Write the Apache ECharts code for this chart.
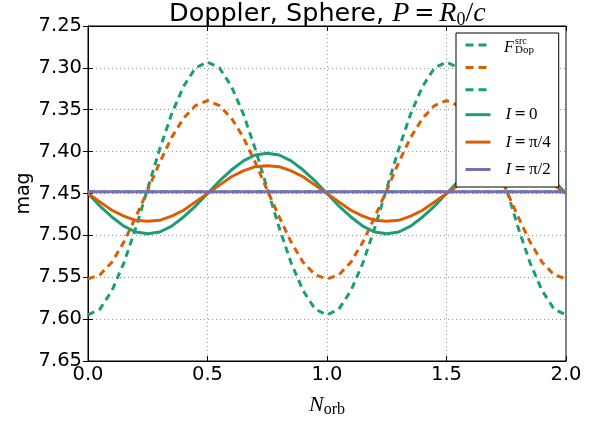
<!DOCTYPE html>
<html><head><meta charset="utf-8">
<script src="https://cdn.jsdelivr.net/npm/echarts@6/dist/echarts.min.js"></script>
<style>html,body{margin:0;padding:0;background:#fff}#c{width:602px;height:423px}</style>
</head><body><div id="c"></div>
<script>
const xs = [0.00,0.05,0.10,0.15,0.20,0.25,0.30,0.35,0.40,0.45,0.50,0.55,0.60,0.65,0.70,0.75,0.80,0.85,0.90,0.95,
  1.00,1.05,1.10,1.15,1.20,1.25,1.30,1.35,1.40,1.45,1.50,1.55,1.60,1.65,1.70,1.75,1.80,1.85,1.90,1.95,2.00];
const dopSrcI0 = [7.595,7.588,7.566,7.533,7.491,7.444,7.397,7.355,7.322,7.300,7.293,7.300,7.322,7.355,7.397,7.444,7.491,7.533,7.566,7.588,
  7.595,7.588,7.566,7.533,7.491,7.444,7.397,7.355,7.322,7.300,7.293,7.300,7.322,7.355,7.397,7.444,7.491,7.533,7.566,7.588,7.595];
const dopSrcI45 = [7.552,7.547,7.532,7.508,7.478,7.446,7.413,7.383,7.360,7.345,7.339,7.345,7.360,7.383,7.413,7.446,7.478,7.508,7.532,7.547,
  7.552,7.547,7.532,7.508,7.478,7.446,7.413,7.383,7.360,7.345,7.339,7.345,7.360,7.383,7.413,7.446,7.478,7.508,7.532,7.547,7.552];
const dopSrcI90 = [7.448,7.448,7.448,7.448,7.448,7.448,7.448,7.448,7.448,7.448,7.448,7.448,7.448,7.448,7.448,7.448,7.448,7.448,7.448,7.448,
  7.448,7.448,7.448,7.448,7.448,7.448,7.448,7.448,7.448,7.448,7.448,7.448,7.448,7.448,7.448,7.448,7.448,7.448,7.448,7.448,7.448];
const magI0 = [7.450,7.465,7.478,7.489,7.496,7.498,7.496,7.489,7.478,7.465,7.450,7.435,7.422,7.411,7.404,7.402,7.404,7.411,7.422,7.435,
  7.450,7.465,7.478,7.489,7.496,7.498,7.496,7.489,7.478,7.465,7.450,7.435,7.422,7.411,7.404,7.402,7.404,7.411,7.422,7.435,7.450];
const magI45 = [7.450,7.460,7.470,7.477,7.482,7.483,7.482,7.477,7.470,7.460,7.450,7.440,7.430,7.423,7.418,7.417,7.418,7.423,7.430,7.440,
  7.450,7.460,7.470,7.477,7.482,7.483,7.482,7.477,7.470,7.460,7.450,7.440,7.430,7.423,7.418,7.417,7.418,7.423,7.430,7.440,7.450];
const magI90 = [7.448,7.448,7.448,7.448,7.448,7.448,7.448,7.448,7.448,7.448,7.448,7.448,7.448,7.448,7.448,7.448,7.448,7.448,7.448,7.448,
  7.448,7.448,7.448,7.448,7.448,7.448,7.448,7.448,7.448,7.448,7.448,7.448,7.448,7.448,7.448,7.448,7.448,7.448,7.448,7.448,7.448];
const seriesNames = ['Fsrc', ' ', '  ', 'I=0', 'I=π/4', 'I=π/2'];
const legendLabels = ['', '', '', '{m|I}{e|=}{r|0}', '{m|I}{e|=}{r|π/4}', '{m|I}{e|=}{r|π/2}'];
const dashedFlags = [true, true, true, false, false, false];

const G = '#1b9e77', O = '#d95f02', P = '#7570b3';
const SERIF = 'Liberation Serif';
const SANS = 'DejaVu Sans';
const pairs = a => a.map((v, i) => [xs[i], v]);
function ln(name, data, color, dashed) {
  return {type: 'line', name, data: pairs(data), showSymbol: false, symbol: 'none', smooth: false,
    lineStyle: {color, width: 3, type: dashed ? [7, 5] : 'solid'}, itemStyle: {color}, animation: false};
}
const chart = echarts.init(document.getElementById('c'), null, {renderer: 'canvas'});
const axisCommon = {
  axisLine: {lineStyle: {color: '#000', width: 1}},
  axisTick: {inside: true, length: 5, lineStyle: {color: '#000'}},
};
chart.setOption({
  animation: false,
  backgroundColor: '#fff',
  title: {
    text: '{a|Doppler, Sphere, }{m|P}{e|=}{m|R}{s|0}{r|/}{m|c}',
    left: 164, top: -6,
    textStyle: {fontWeight: 'normal', rich: {
      a: {fontFamily: SANS, fontSize: 25.5, fontWeight: 'normal', color: '#000', lineHeight: 30},
      m: {fontFamily: SERIF, fontStyle: 'italic', fontWeight: 'normal', fontSize: 28, color: '#000', lineHeight: 30},
      e: {fontFamily: SANS, fontWeight: 'normal', fontSize: 24, color: '#000', lineHeight: 30, padding: [0, 5, 0, 5]},
      r: {fontFamily: SERIF, fontWeight: 'normal', fontSize: 28, color: '#000', lineHeight: 30},
      s: {fontFamily: SERIF, fontWeight: 'normal', fontSize: 18, color: '#000', lineHeight: 14, verticalAlign: 'bottom'}
    }}
  },
  grid: {left: 88, right: 36, top: 26, bottom: 61, show: true, borderColor: '#000', borderWidth: 1},
  xAxis: [{
    type: 'value', min: 0, max: 2, interval: 0.5, ...axisCommon,
    axisLabel: {color: '#000', fontFamily: SANS, fontSize: 19.5, margin: 4, formatter: v => v.toFixed(1)},
    splitLine: {show: true, lineStyle: {color: '#999', type: [1, 3], width: 1}},
    name: '{m|N}{s|orb}', nameLocation: 'middle', nameGap: 31,
    nameTextStyle: {rich: {
      m: {fontFamily: SERIF, fontStyle: 'italic', fontSize: 22, color: '#000', lineHeight: 26},
      s: {fontFamily: SERIF, fontSize: 16, color: '#000', lineHeight: 12, verticalAlign: 'bottom'}
    }}
  }, {
    type: 'value', min: 0, max: 2, interval: 0.5, position: 'top', ...axisCommon,
    axisLabel: {show: false}, splitLine: {show: false}
  }],
  yAxis: [{
    type: 'value', inverse: true, min: 7.25, max: 7.65, interval: 0.05, ...axisCommon,
    axisLabel: {color: '#000', fontFamily: SANS, fontSize: 19.5, margin: 6, formatter: v => v.toFixed(2)},
    splitLine: {show: true, lineStyle: {color: '#999', type: [1, 3], width: 1}},
    name: 'mag', nameLocation: 'middle', nameGap: 54, nameMoveOverlap: false,
    nameTextStyle: {fontFamily: SANS, fontSize: 19, color: '#000'}
  }, {
    type: 'value', inverse: true, min: 7.25, max: 7.65, interval: 0.05, position: 'right', ...axisCommon,
    axisLabel: {show: false}, splitLine: {show: false}
  }],
  legend: {
    orient: 'vertical', left: 456, top: 33, padding: [6, 8, 9, 8],
    backgroundColor: '#fff', borderColor: '#000', borderWidth: 1, borderRadius: 0,
    itemWidth: 25, itemHeight: 14, itemGap: 10.4,
    data: seriesNames.map((n, i) => ({
      name: n,
      itemStyle: {opacity: 0},
      lineStyle: {width: 3, type: dashedFlags[i] ? [8, 5] : 'solid'}
    })),
    formatter: n => legendLabels[seriesNames.indexOf(n)] || ' ',
    textStyle: {padding: [0, 0, 0, 10], width: 44, rich: {
      m: {fontFamily: SERIF, fontStyle: 'italic', fontSize: 17, color: '#000'},
      e: {fontFamily: SANS, fontSize: 14, color: '#000', padding: [0, 3, 0, 3]},
      r: {fontFamily: SERIF, fontSize: 17, color: '#000'}
    }},
    selectedMode: false
  },
  graphic: [
    {type: 'text', left: 504, top: 40, z: 100, zlevel: 1, style: {text: 'F', font: 'italic 16px "Liberation Serif"', fill: '#000'}},
    {type: 'text', left: 515, top: 36, z: 100, zlevel: 1, style: {text: 'src', font: '10px "Liberation Serif"', fill: '#000'}},
    {type: 'text', left: 515, top: 45, z: 100, zlevel: 1, style: {text: 'Dop', font: '11px "Liberation Serif"', fill: '#000'}}
  ],
  series: [
    ln(seriesNames[0], dopSrcI0, G, true),
    ln(seriesNames[1], dopSrcI45, O, true),
    ln(seriesNames[2], dopSrcI90, G, true),
    ln(seriesNames[3], magI0, G, false),
    ln(seriesNames[4], magI45, O, false),
    ln(seriesNames[5], magI90, P, false)
  ]
});
</script></body></html>
